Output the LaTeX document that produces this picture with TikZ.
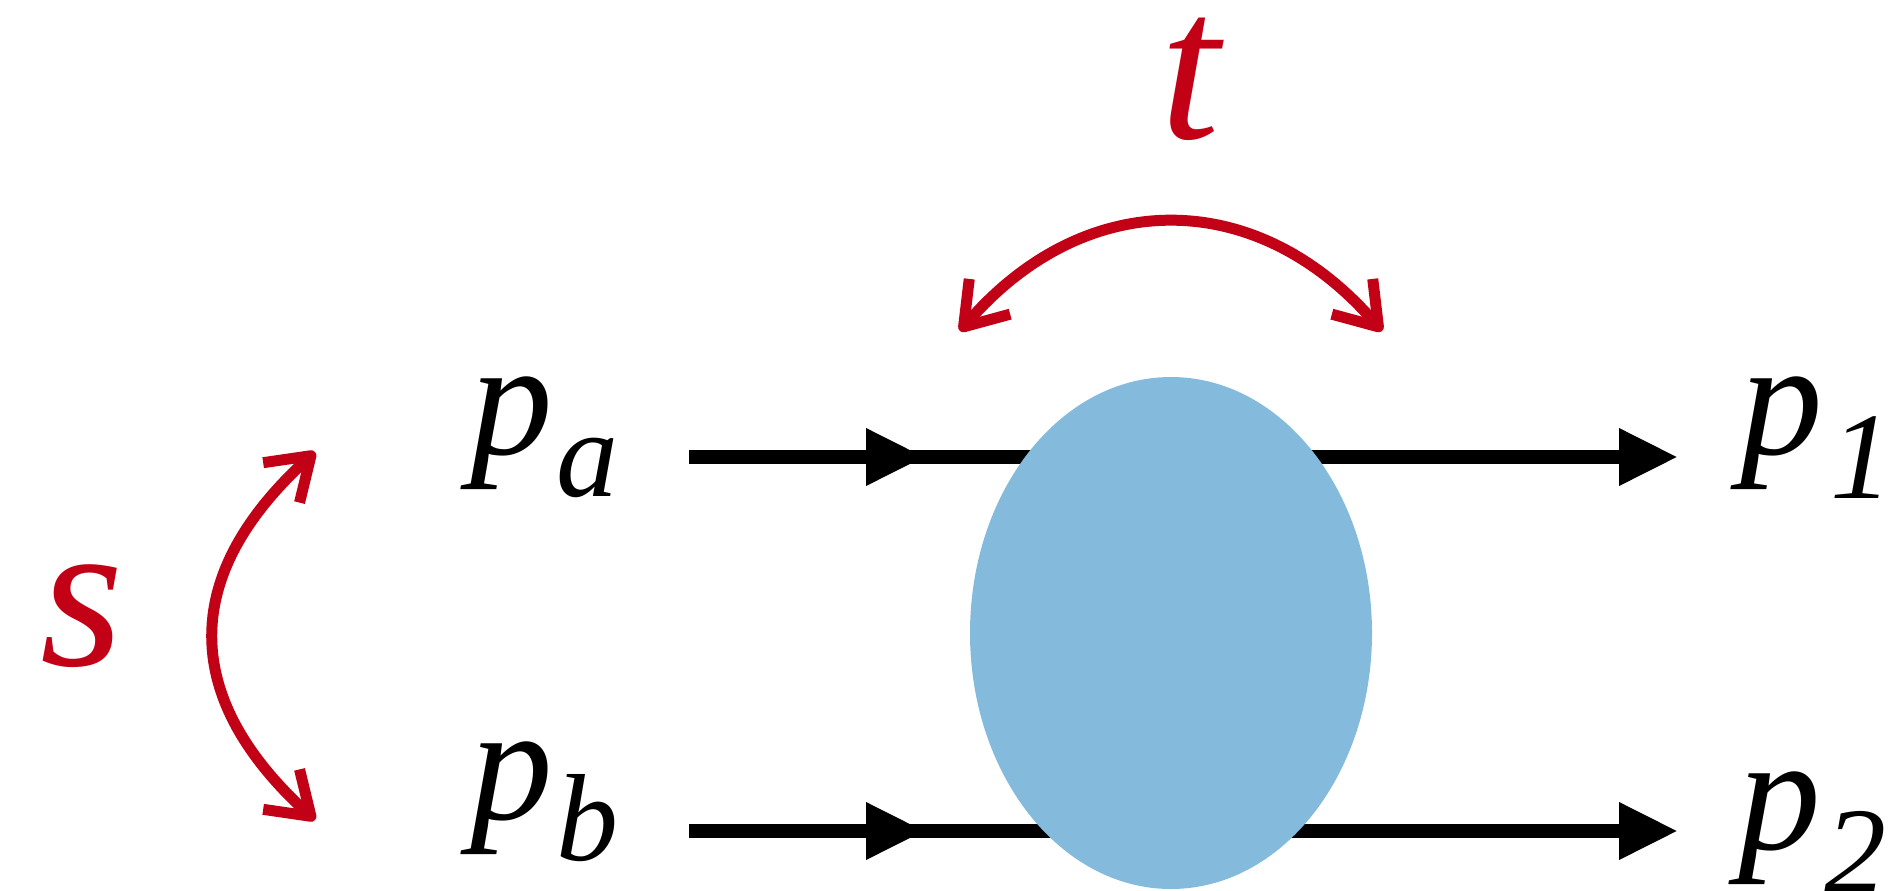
\documentclass[tikz,border=0pt]{standalone}
\usepackage{fontspec}
\setmainfont{Liberation Serif}
\usetikzlibrary{arrows.meta,shapes.geometric}
\definecolor{blobc}{RGB}{132,187,220}
\definecolor{redc}{RGB}{194,0,22}
\newcommand{\bigp}{\fontsize{82.5}{90}\selectfont\itshape p}
\newcommand{\subsz}{\fontsize{62}{66}\selectfont}
\begin{document}
\begin{tikzpicture}[x=0.5pt,y=-0.5pt,
  flow/.style={line width=7pt,-{Triangle[length=29.5pt,width=26.8pt]}},
  barb/.tip={Straight Barb[length=20pt,width=27pt,line join=round,line cap=butt]},
  swing/.style={redc,line width=5.5pt,barb-barb},
  lab/.style={anchor=base west,inner sep=0pt,outer sep=0pt},
  redlab/.style={anchor=base west,inner sep=0pt,text=redc,font=\fontsize{107}{110}\selectfont\itshape}]
\useasboundingbox (0,0) rectangle (1890,890);
% line endpoints
\coordinate (a0) at (689,457);
\coordinate (a1) at (925,457);
\coordinate (a2) at (1678,457);
\coordinate (b0) at (689,831);
\coordinate (b1) at (925,831);
\coordinate (b2) at (1678,831);
\draw[flow] (a0) -- (a1);
\draw[flow] (a0) -- (a2);
\draw[flow] (b0) -- (b1);
\draw[flow] (b0) -- (b2);
% blob
\node[ellipse,fill=blobc,inner sep=0pt,minimum width=201pt,minimum height=256pt] (blob) at (1171,633) {};
% labels
\node[lab] (pa) at (470,454) {\bigp\kern2pt\raisebox{-21pt}{\subsz\itshape a}};
\node[lab] (pb) at (470,819) {\bigp\kern2pt\raisebox{-20.5pt}{\subsz\itshape b}};
\node[lab] (p1) at (1740,454) {\bigp\kern4pt\raisebox{-22pt}{\subsz 1}};
\node[lab] (p2) at (1738,849) {\bigp\kern2pt\raisebox{-22pt}{\subsz 2}};
\node[redlab] (s) at (40,665) {s};
\node[redlab] (t) at (1160,138) {t};
% swing arrows
\coordinate (tl) at (960,331);
\coordinate (tr) at (1382,331);
\coordinate (st) at (315,452);
\coordinate (sb) at (315,820);
\draw[swing] (tl) .. controls (1085,186) and (1257,186) .. (tr);
\draw[swing] (st) .. controls (180,575) and (180,697) .. (sb);
\end{tikzpicture}
\end{document}
